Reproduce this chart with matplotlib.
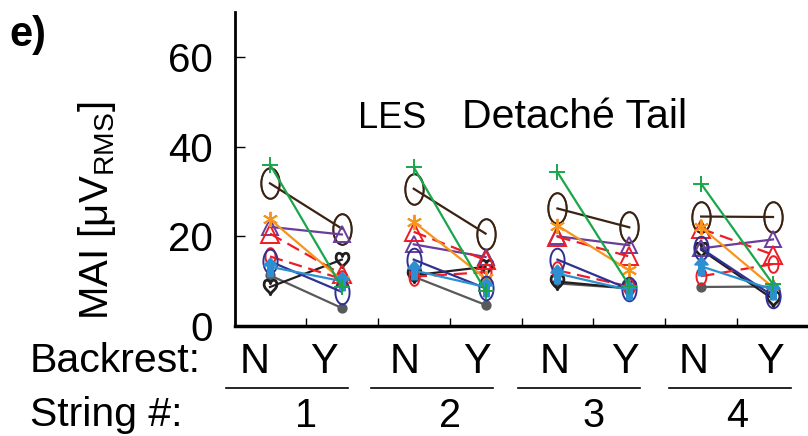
import matplotlib
matplotlib.use("Agg")
import matplotlib.pyplot as plt
import numpy as np
from matplotlib.path import Path
from matplotlib.transforms import blended_transform_factory

plt.rcParams['font.family'] = ['Liberation Sans', 'DejaVu Sans']
plt.rcParams['mathtext.fontset'] = 'custom'
plt.rcParams['mathtext.rm'] = 'Liberation Sans'

# x positions: string 1..4, backrest N / Y
POSITIONS = [1, 2, 3, 4, 5, 6, 7, 8]
BACKREST = ["N", "Y", "N", "Y", "N", "Y", "N", "Y"]
STRINGS = ["1", "2", "3", "4"]

# MAI values per subject, order: S1 N, S1 Y, S2 N, S2 Y, S3 N, S3 Y, S4 N, S4 Y
green = [36.0, 8.7, 35.4, 7.8, 34.3, 9.0, 31.7, 9.3]
brown = [31.8, 21.7, 30.6, 20.6, 26.2, 22.0, 24.4, 24.3]
orange = [23.8, 10.2, 23.2, 10.6, 22.4, 12.4, 22.0, 8.6]
purple = [22.1, 20.4, 18.2, 15.4, 20.0, 18.0, 17.3, 19.3]
red_tri = [20.6, 11.5, 21.0, 14.7, 19.9, 15.5, 21.7, 15.9]
red_circ = [15.5, 10.5, 11.0, 12.0, 12.4, 8.8, 11.1, 13.8]
navy = [14.4, 7.6, 14.8, 8.4, 14.8, 8.2, 17.3, 6.7]
lightblue = [13.2, 10.0, 12.4, 8.7, 11.7, 8.0, 13.3, 8.1]
black = [8.7, 14.8, 11.3, 13.2, 9.9, 8.4, 17.0, 6.0]
gray = [11.3, 4.0, 11.0, 4.7, 9.5, 8.4, 8.7, 8.8]

t = np.linspace(0, 2*np.pi, 40)
ELLIPSE = Path(np.column_stack([0.6*np.cos(t), np.sin(t)]), closed=True)
ARROW = Path([(0, 1), (0.7, 0.2), (0.28, 0.2), (0.28, -1), (-0.28, -1),
              (-0.28, 0.2), (-0.7, 0.2), (0, 1)], closed=True)

# (values, color, linestyle, marker, markersize, filled)
SERIES = [
    (gray, "#58595b", "-", "o", 6, True),
    (black, "#231f20", "-", r"$\heartsuit$", 11, False),
    (brown, "#3b2314", "-", ELLIPSE, 22, False),
    (purple, "#6a3d9a", "-", "^", 12, False),
    (red_tri, "#ee1c25", (0, (6, 3)), "^", 13, False),
    (red_circ, "#ee1c25", (0, (6, 3)), ELLIPSE, 12, False),
    (orange, "#f7941d", "-", (6, 2, 0), 11, False),
    (navy, "#2e3192", "-", ELLIPSE, 17, False),
    (lightblue, "#2b8fd0", "-", ARROW, 13, True),
    (green, "#1aa64a", "-", "+", 12, False),
]

fig = plt.figure(figsize=(8.08, 4.36), dpi=100)
ax = fig.add_axes([235/808, 1 - 326/436, 573/808, 314/436])

for vals, col, ls, mk, ms, filled in SERIES:
    for i in range(0, 8, 2):
        ax.plot(POSITIONS[i:i+2], vals[i:i+2], color=col, ls=ls, lw=1.6,
                marker=mk, ms=ms, mec=col, mew=1.4,
                mfc=col if filled else "none", zorder=3)

# white fill for the big brown circles
for i in range(0, 8, 2):
    ax.plot(POSITIONS[i:i+2], brown[i:i+2], ls="none", marker=ELLIPSE,
            ms=22, mfc="white", mec="#3b2314", mew=1.2, zorder=2.5)

ax.set_xlim(0.513, 8.487)
ax.set_ylim(0, 70)
ax.set_yticks([0, 20, 40, 60])
ax.set_xticks([1.5, 2.5, 3.5, 4.5, 5.5, 6.5, 7.5])
ax.set_xticklabels([])
ax.tick_params(axis="y", direction="in", length=7, width=1, labelsize=29, pad=16)
ax.tick_params(axis="x", direction="in", length=5.5, width=1)
for s in ["top", "right"]:
    ax.spines[s].set_visible(False)
ax.spines["left"].set_linewidth(2)
ax.spines["bottom"].set_linewidth(2.5)

trans = blended_transform_factory(ax.transData, fig.transFigure)
label_x = [0.78, 1.75, 2.88, 3.88, 4.96, 5.94, 6.90, 7.96]
for x, lab in zip(label_x, BACKREST):
    ax.text(x, 1 - 373/436, lab, transform=trans, ha="center",
            va="baseline", fontsize=30, clip_on=False)
line_start = [0.39, 2.40, 4.45, 6.55]
for x0, lab, xn in zip(line_start, STRINGS, [1.5, 3.5, 5.5, 7.5]):
    ax.plot([x0, x0 + 1.7], [1 - 388/436]*2, transform=trans, color="black",
            lw=1.2, clip_on=False)
    ax.text(xn, 1 - 427/436, lab, transform=trans, ha="center",
            va="baseline", fontsize=28.5, clip_on=False)

fig.text(30/808, 1 - 372/436, "Backrest:", va="baseline", fontsize=29.5)
fig.text(30/808, 1 - 426/436, "String #:", va="baseline", fontsize=29.5)
fig.text(9/808, 1 - 46/436, "e)", va="baseline", fontsize=30, weight="bold")
fig.text(97/808, 1 - 211/436, "MAI [μV$_{\\mathregular{RMS}}$]", rotation=90,
         ha="center", va="center", fontsize=29)
fig.text(358/808, 1 - 128/436, "LES", va="baseline", fontsize=26)
fig.text(462/808, 1 - 128/436, "Detaché Tail", va="baseline", fontsize=29.5)

fig.savefig("out.png", dpi=100)
